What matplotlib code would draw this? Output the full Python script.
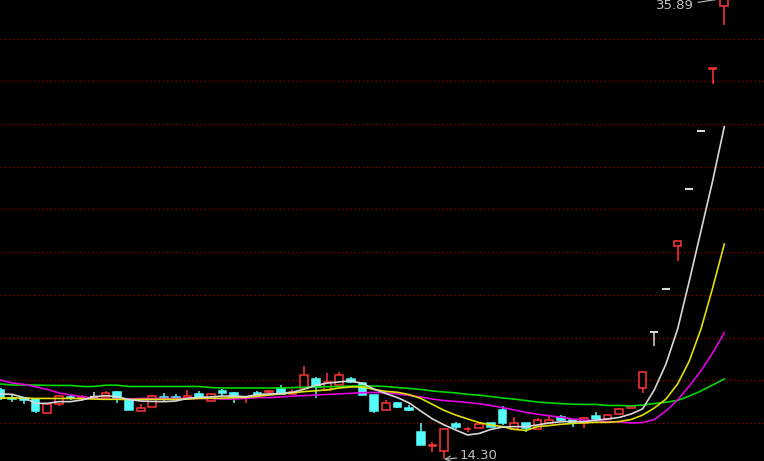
"""Daily K-line with MA lines, dark terminal style (limit-up run at the end)."""

import matplotlib
matplotlib.use("Agg")
import matplotlib.pyplot as plt
from matplotlib.patches import Rectangle

BG = "black"
RED = "#ff3434"
CYAN = "#54fcfc"
DOJI = "#d8d8d8"
GRID = "#8c0000"
LABEL = "#c0c0c0"

# OHLC per trading day (prices)
opens = [17.55, 17.19, 17.15, 17.12, 16.47, 16.89, 17.24, 17.19, 17.24, 17.22,
         17.45, 17.10, 16.56, 16.75, 17.24, 17.24, 17.17, 17.36, 17.03, 17.48,
         17.41, 17.15, 17.41, 17.43, 17.64, 17.38, 17.64, 18.06, 17.55, 17.78,
         18.04, 17.87, 17.31, 16.61, 16.94, 16.68, 15.58, 14.90, 14.69, 15.94,
         15.70, 15.77, 16.00, 16.61, 15.72, 16.00, 15.72, 16.00, 16.28, 16.14,
         16.00, 16.33, 16.19, 16.42, 16.70, 17.64, 20.25, 22.28, 24.29, 26.96,
         29.66, 32.58, 35.53]
highs = [17.64, 17.31, 17.22, 17.15, 16.89, 17.26, 17.31, 17.33, 17.43, 17.50,
         17.48, 17.17, 16.89, 17.33, 17.41, 17.36, 17.55, 17.48, 17.36, 17.59,
         17.43, 17.22, 17.48, 17.55, 17.78, 17.59, 18.67, 18.15, 18.34, 18.39,
         18.15, 17.90, 17.33, 17.08, 16.96, 16.84, 16.00, 15.11, 15.72, 16.05,
         15.81, 15.98, 16.02, 16.80, 16.28, 16.02, 16.23, 16.37, 16.37, 16.16,
         16.26, 16.52, 16.40, 16.68, 16.80, 18.41, 20.25, 22.28, 24.51, 26.96,
         29.66, 32.63, 35.89]
lows = [17.08, 16.98, 16.89, 16.47, 16.47, 16.80, 17.08, 17.10, 17.22, 17.22,
        16.94, 16.59, 16.56, 16.75, 16.98, 17.08, 17.17, 17.19, 17.01, 17.26,
        16.94, 16.94, 17.29, 17.31, 17.31, 17.38, 17.59, 17.17, 17.55, 17.78,
        17.87, 17.29, 16.47, 16.61, 16.68, 16.56, 14.95, 14.64, 14.30, 15.72,
        15.58, 15.77, 15.79, 15.91, 15.72, 15.58, 15.72, 16.00, 16.07, 15.81,
        15.77, 16.05, 16.19, 16.40, 16.70, 17.41, 19.61, 22.28, 23.59, 26.96,
        29.66, 31.88, 34.64]
closes = [17.17, 17.12, 17.08, 16.56, 16.89, 17.26, 17.17, 17.24, 17.24, 17.41,
          17.17, 16.61, 16.70, 17.26, 17.17, 17.18, 17.26, 17.22, 17.36, 17.41,
          17.22, 17.19, 17.31, 17.48, 17.36, 17.45, 18.25, 17.69, 17.92, 18.25,
          17.94, 17.31, 16.56, 16.94, 16.75, 16.63, 14.97, 14.95, 15.72, 15.79,
          15.74, 15.95, 15.81, 16.00, 16.00, 15.77, 16.14, 16.14, 16.14, 16.00,
          16.23, 16.19, 16.37, 16.66, 16.80, 18.41, 20.25, 22.28, 24.51, 26.96,
          29.66, 32.63, 35.89]

# moving averages
ma5 = [17.36, 17.34, 17.19, 16.92, 16.92, 17.00, 17.00, 17.08, 17.23, 17.28,
       17.23, 17.10, 17.03, 17.01, 17.00, 17.03, 17.15, 17.20, 17.22, 17.26,
       17.26, 17.23, 17.33, 17.36, 17.38, 17.44, 17.58, 17.76, 17.87, 17.92,
       17.98, 17.85, 17.59, 17.38, 17.19, 16.94, 16.56, 16.19, 15.91, 15.67,
       15.44, 15.51, 15.70, 15.81, 15.83, 15.83, 15.91, 16.00, 16.06, 16.07,
       16.06, 16.13, 16.19, 16.26, 16.42, 16.66, 17.55, 18.76, 20.40, 22.65,
       24.99, 27.34, 29.88]
ma10 = [17.17, 17.17, 17.17, 17.15, 17.15, 17.15, 17.15, 17.14, 17.12, 17.11,
        17.11, 17.10, 17.11, 17.11, 17.11, 17.11, 17.12, 17.15, 17.16, 17.16,
        17.19, 17.20, 17.25, 17.31, 17.36, 17.41, 17.47, 17.51, 17.55, 17.64,
        17.69, 17.69, 17.57, 17.48, 17.44, 17.33, 17.15, 16.87, 16.59, 16.37,
        16.19, 16.02, 15.91, 15.83, 15.70, 15.65, 15.83, 15.88, 15.94, 15.98,
        16.01, 16.03, 16.03, 16.07, 16.16, 16.37, 16.70, 17.12, 17.83, 18.90,
        20.40, 22.32, 24.38]
ma20 = [18.01, 17.87, 17.81, 17.70, 17.57, 17.41, 17.31, 17.23, 17.16, 17.12,
        17.12, 17.12, 17.15, 17.15, 17.15, 17.15, 17.15, 17.15, 17.15, 17.12,
        17.12, 17.15, 17.19, 17.19, 17.22, 17.26, 17.28, 17.31, 17.34, 17.36,
        17.39, 17.42, 17.43, 17.41, 17.36, 17.29, 17.22, 17.12, 17.05, 17.01,
        16.96, 16.90, 16.82, 16.72, 16.61, 16.50, 16.41, 16.34, 16.27, 16.19,
        16.14, 16.11, 16.07, 16.05, 16.00, 16.02, 16.16, 16.56, 17.08, 17.73,
        18.44, 19.28, 20.22]
ma60 = [17.83, 17.78, 17.78, 17.78, 17.76, 17.76, 17.76, 17.71, 17.71, 17.77,
        17.77, 17.71, 17.71, 17.71, 17.71, 17.71, 17.71, 17.71, 17.66, 17.64,
        17.64, 17.64, 17.64, 17.64, 17.64, 17.66, 17.67, 17.69, 17.70, 17.71,
        17.73, 17.74, 17.73, 17.71, 17.66, 17.62, 17.57, 17.50, 17.45, 17.41,
        17.34, 17.30, 17.24, 17.17, 17.12, 17.05, 16.98, 16.94, 16.91, 16.88,
        16.87, 16.87, 16.82, 16.82, 16.80, 16.84, 16.91, 16.97, 17.06, 17.26,
        17.50, 17.78, 18.06]

grid_levels = [16, 18, 20, 22, 24, 26, 28, 30, 32, 34]

fig = plt.figure(figsize=(7.64, 4.61), dpi=100, facecolor=BG)
ax = fig.add_axes([0, 0, 1, 1])
ax.set_facecolor(BG)

for lv in grid_levels:
    ax.axhline(lv, color=GRID, lw=1.0, linestyle=(0, (1, 2)), zorder=1)

w = 0.66
for i, (o, h, l, c) in enumerate(zip(opens, highs, lows, closes)):
    if abs(c - o) < 0.005:
        # one-price / doji day
        ax.vlines(i, l, h, color=DOJI, lw=1.1, zorder=3)
        ax.hlines(c, i - w / 2, i + w / 2, color=DOJI, lw=1.5, zorder=3)
        continue
    col = RED if c > o else CYAN
    ax.vlines(i, l, h, color=col, lw=1.1, zorder=3)
    face = BG if c > o else CYAN
    ax.add_patch(Rectangle((i - w / 2, min(o, c)), w, abs(c - o),
                           facecolor=face, edgecolor=col, lw=1.1, zorder=4))

days = range(len(closes))
ax.plot(days, ma60, color="#00d800", lw=1.2, zorder=5)
ax.plot(days, ma20, color="#e000e0", lw=1.2, zorder=5)
ax.plot(days, ma10, color="#e0e000", lw=1.2, zorder=5)
ax.plot(days, ma5, color="#d8d8d8", lw=1.2, zorder=6)

# high / low markers
hi_i = highs.index(max(highs))
lo_i = lows.index(min(lows))
ax.annotate(f"{max(highs):.2f}", xy=(hi_i, max(highs)), xytext=(-22, -5.5),
            textcoords="offset points", ha="right", va="center",
            fontsize=9.5, color=LABEL, annotation_clip=False,
            arrowprops=dict(arrowstyle="-", color=LABEL, lw=0.8,
                            shrinkA=1, shrinkB=2))
ax.annotate(f"{min(lows):.2f}", xy=(lo_i, min(lows)), xytext=(11, 2.5),
            textcoords="offset points", ha="left", va="center",
            fontsize=9.5, color=LABEL, annotation_clip=False,
            arrowprops=dict(arrowstyle="->", color=LABEL, lw=0.8,
                            shrinkA=0, shrinkB=0))

ax.set_xlim(-0.05, 65.4)
ax.set_ylim(14.22, 35.81)
ax.axis("off")

fig.savefig("out.png", dpi=100, facecolor=BG)
